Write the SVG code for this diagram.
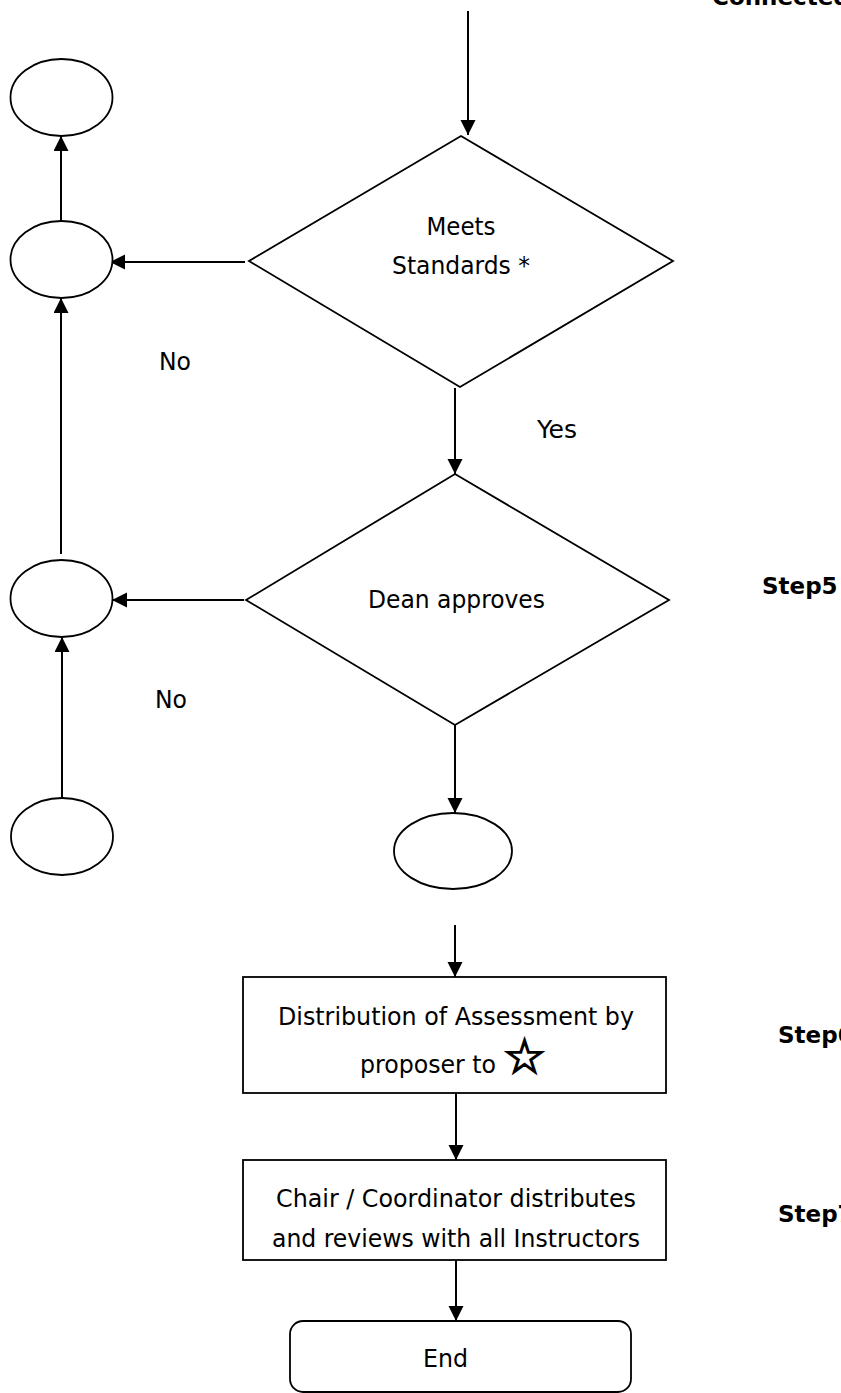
<svg xmlns="http://www.w3.org/2000/svg" width="841" height="1393" viewBox="0 0 841 1393">
<defs>
<style>
.s{fill:#fff;stroke:#000;stroke-width:1.8}
.c{fill:none;stroke:#000;stroke-width:2}
.t{font-family:"DejaVu Sans Condensed","DejaVu Sans",sans-serif;font-size:25.5px;fill:#000}
.b{font-family:"DejaVu Sans","Verdana",sans-serif;font-size:23px;font-weight:bold;fill:#000}
.star{font-family:"DejaVu Sans",sans-serif;font-size:48px;fill:#fff;stroke:#000;stroke-width:1.6}
</style>
<marker id="ah" markerUnits="userSpaceOnUse" markerWidth="16" markerHeight="16" refX="15" refY="7.5" orient="auto">
<path d="M0,0 L15,7.5 L0,15 z" fill="#000"/>
</marker>
</defs>
<rect width="841" height="1393" fill="#fff"/>
<g id="connectors">
<line class="c" x1="468" y1="11" x2="468" y2="135" marker-end="url(#ah)"/>
<line class="c" x1="245" y1="262" x2="110" y2="262" marker-end="url(#ah)"/>
<line class="c" x1="61" y1="222" x2="61" y2="136" marker-end="url(#ah)"/>
<line class="c" x1="61" y1="554" x2="61" y2="298" marker-end="url(#ah)"/>
<line class="c" x1="455" y1="388" x2="455" y2="474" marker-end="url(#ah)"/>
<line class="c" x1="244" y1="600" x2="112" y2="600" marker-end="url(#ah)"/>
<line class="c" x1="62" y1="798" x2="62" y2="637" marker-end="url(#ah)"/>
<line class="c" x1="455" y1="725" x2="455" y2="813" marker-end="url(#ah)"/>
<line class="c" x1="455" y1="925" x2="455" y2="977" marker-end="url(#ah)"/>
<line class="c" x1="456" y1="1093" x2="456" y2="1160" marker-end="url(#ah)"/>
<line class="c" x1="456" y1="1260" x2="456" y2="1321" marker-end="url(#ah)"/>
</g>
<g id="labels">
<text class="t" x="159" y="370" textLength="32" lengthAdjust="spacingAndGlyphs">No</text>
<text class="t" x="537" y="438" textLength="40" lengthAdjust="spacingAndGlyphs">Yes</text>
<text class="t" x="155" y="708" textLength="32" lengthAdjust="spacingAndGlyphs">No</text>
<text class="b" x="712" y="5">Connected</text>
<text class="b" x="762" y="594">Step5</text>
<text class="b" x="778" y="1043">Step6</text>
<text class="b" x="778" y="1222">Step7</text>
</g>
<g id="e1"><ellipse class="s" cx="61.5" cy="97.5" rx="51" ry="38.5"/></g>
<g id="e2"><ellipse class="s" cx="61.5" cy="259.5" rx="51" ry="38.5"/></g>
<g id="e3"><ellipse class="s" cx="61.5" cy="598.5" rx="51" ry="38.5"/></g>
<g id="e5"><ellipse class="s" cx="62" cy="836.5" rx="51" ry="38.5"/></g>
<g id="e4"><ellipse class="s" cx="453" cy="851" rx="59" ry="38"/></g>
<g id="d1">
<polygon class="s" points="461,136 673,261 460,387 249,261"/>
<text class="t" x="461" y="235" text-anchor="middle" textLength="69" lengthAdjust="spacingAndGlyphs">Meets</text>
<text class="t" x="461" y="274" text-anchor="middle" textLength="138" lengthAdjust="spacingAndGlyphs">Standards *</text>
</g>
<g id="d2">
<polygon class="s" points="455,474 669,600 455,725 246,600"/>
<text class="t" x="456.5" y="608" text-anchor="middle" textLength="177" lengthAdjust="spacingAndGlyphs">Dean approves</text>
</g>
<g id="r1">
<rect class="s" x="243" y="977" width="423" height="116"/>
<text class="t" x="456" y="1025" text-anchor="middle" textLength="356" lengthAdjust="spacingAndGlyphs">Distribution of Assessment by</text>
<text class="t" x="360" y="1073" textLength="136" lengthAdjust="spacingAndGlyphs">proposer to</text>
<text class="star" x="503" y="1073">☆</text>
</g>
<g id="r2">
<rect class="s" x="243" y="1160" width="423" height="100"/>
<text class="t" x="456" y="1207" text-anchor="middle" textLength="360" lengthAdjust="spacingAndGlyphs">Chair / Coordinator distributes</text>
<text class="t" x="456" y="1247" text-anchor="middle" textLength="368" lengthAdjust="spacingAndGlyphs">and reviews with all Instructors</text>
</g>
<g id="end">
<rect class="s" x="290" y="1321" width="341" height="71" rx="13"/>
<text class="t" x="445.5" y="1367" text-anchor="middle" textLength="45" lengthAdjust="spacingAndGlyphs">End</text>
</g>
</svg>
